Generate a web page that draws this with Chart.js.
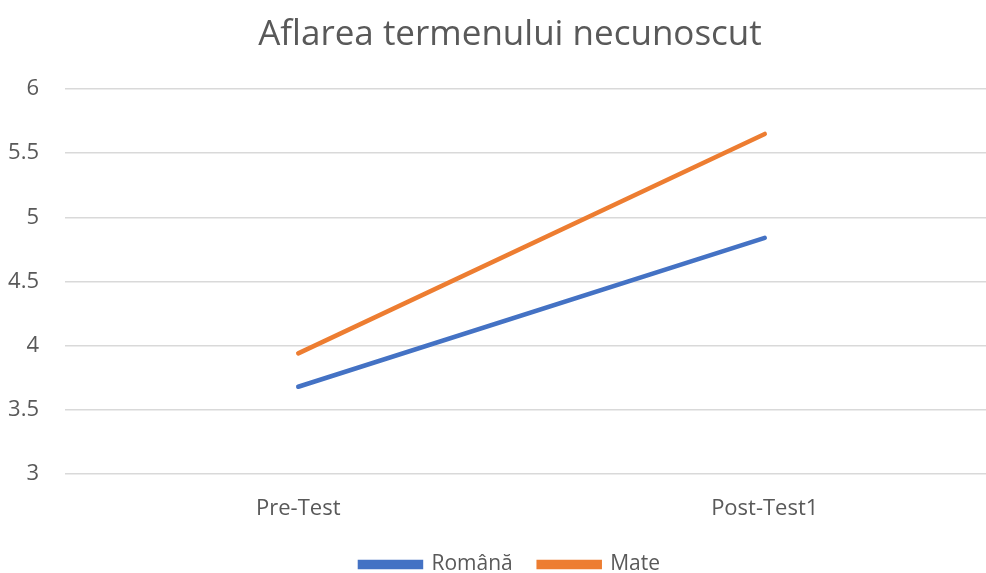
<!DOCTYPE html>
<html>
<head>
<meta charset="utf-8">
<script src="https://cdn.jsdelivr.net/npm/chart.js@4.4.1/dist/chart.umd.min.js"></script>
<style>
  html, body { margin: 0; padding: 0; background: #fff; overflow: hidden; }
  #wrap { position: relative; width: 1020px; height: 585px; }
</style>
</head>
<body>
<div id="wrap"><canvas id="lineChart"></canvas></div>
<script>
// date
var etape = ['Pre-Test', 'Post-Test1'];
var romana = [3.68, 4.84];
var mate = [3.94, 5.65];
var yMin = 3, yMax = 6, yPas = 0.5;

var gri = '#595959';

var ctx = document.getElementById('lineChart').getContext('2d');
var myChart = new Chart(ctx, {
    type: 'line',
    data: {
        labels: etape,
        datasets: [{
            label: 'Română',
            data: romana,
            borderColor: '#4472C4',
            backgroundColor: '#4472C4',
            borderWidth: 4.5,
            pointRadius: 0,
            borderCapStyle: 'round'
        }, {
            label: 'Mate',
            data: mate,
            borderColor: '#ED7D31',
            backgroundColor: '#ED7D31',
            borderWidth: 4.5,
            pointRadius: 0,
            borderCapStyle: 'round'
        }]
    },
    options: {
        responsive: true,
        maintainAspectRatio: false,
        animation: false,
        plugins: {
            title: {
                display: true,
                text: 'Aflarea termenului necunoscut',
                color: gri,
                font: { family: 'Open Sans', size: 35, weight: 'normal' },
                padding: { top: 14, bottom: 33 }
            },
            legend: {
                position: 'bottom',
                labels: {
                    color: gri,
                    font: { family: 'Open Sans', size: 21 },
                    boxWidth: 61,
                    boxHeight: 5,
                    padding: 26
                }
            },
            tooltip: { enabled: false }
        },
        scales: {
            x: {
                offset: true,
                grid: { display: false },
                border: { display: false },
                ticks: { color: gri, font: { family: 'Open Sans', size: 22 }, padding: 14 },
                afterFit: function (axis) { axis.height = 54; }
            },
            y: {
                min: yMin,
                max: yMax,
                ticks: {
                    stepSize: yPas,
                    color: gri,
                    font: { family: 'Open Sans', size: 22 },
                    padding: 26,
                    callback: function (v) { return String(v); }
                },
                grid: { color: '#d9d9d9', lineWidth: 1.5, drawTicks: false },
                border: { display: false },
                afterFit: function (axis) { axis.width = 65; }
            },
            // axa goala din dreapta, doar pentru spatiu
            yDreapta: {
                position: 'right',
                grid: { display: false },
                border: { display: false },
                ticks: { display: false },
                afterFit: function (axis) { axis.width = 22; }
            }
        }
    }
});
</script>
</body>
</html>
